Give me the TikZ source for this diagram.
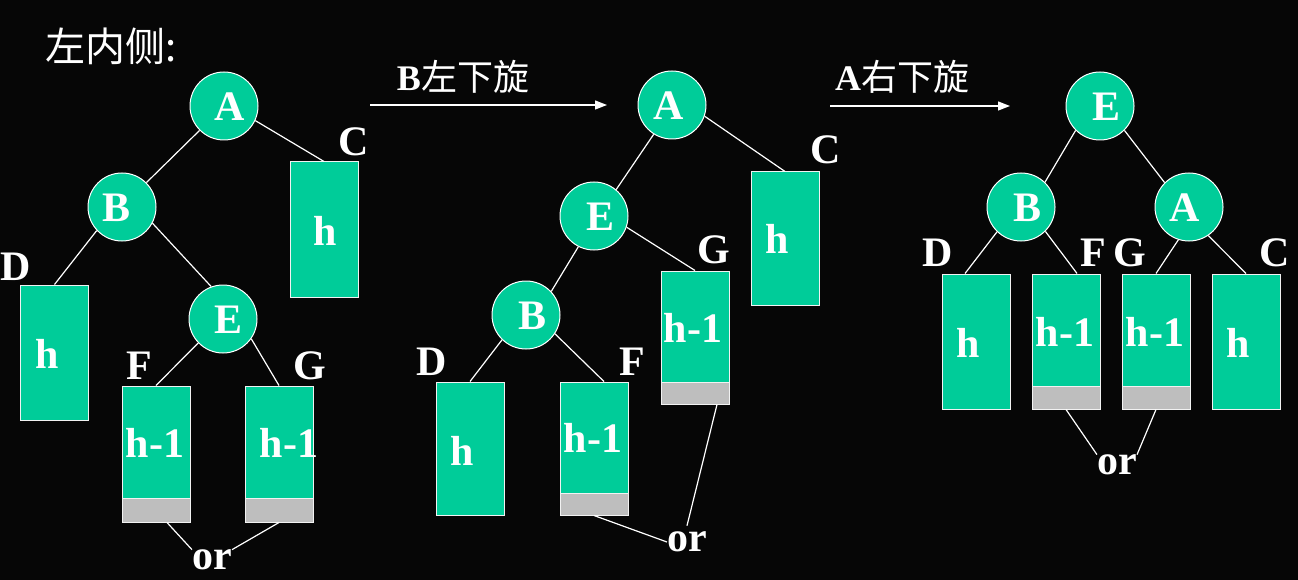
\documentclass[tikz,border=0pt]{standalone}
\usepackage{fontspec}
\setmainfont{Liberation Serif}
\newfontfamily\cjk{Noto Sans CJK SC}
\usetikzlibrary{arrows.meta}
\definecolor{bg}{HTML}{060606}
\definecolor{teal1}{HTML}{00CC99}
\definecolor{gray1}{HTML}{BEBEBE}
\tikzset{
 circ/.style={circle, fill=teal1, draw=white, line width=1pt, minimum size=68pt, inner sep=0pt},
 tbox/.style={rectangle, fill=teal1, draw=white!90!gray, line width=1pt, minimum width=68pt, inner sep=0pt},
 gbox/.style={rectangle, fill=gray1, draw=white!90!gray, line width=1pt, minimum width=68pt, inner sep=0pt},
 lbl/.style={text=white, font=\fontsize{42}{42}\selectfont\bfseries, inner sep=0pt},
 cjklbl/.style={text=white, inner sep=0pt},
 edge/.style={draw=white, line width=1.2pt},
 arr/.style={draw=white, line width=1.3pt, -{Triangle[length=12pt,width=9pt]}},
}
\begin{document}
\begin{tikzpicture}[x=1pt,y=-1pt]
\fill[bg] (0,0) rectangle (1298,580);
\useasboundingbox (0,0) rectangle (1298,580);

% title
\node[cjklbl, anchor=west, font=\cjk\fontsize{40}{40}\selectfont] (title) at (45,46) {左内侧:};

% ---------------- Tree 1 ----------------
\node[circ] (A1) at (224,106) {};
\node[circ] (B1) at (122,207) {};
\node[circ] (E1) at (223,319) {};
\node[lbl] (tA1) at (230,107) {A};
\node[lbl] (tB1) at (117,208) {B};
\node[lbl] (tE1) at (229,320) {E};

\node[tbox, minimum height=135pt] (Cb1) at (324,229.5) {};
\node[tbox, minimum height=135pt] (Db1) at (54.5,352.5) {};
\node[tbox, minimum height=112pt] (Fb1) at (156,442) {};
\node[gbox, minimum height=24pt] (Fg1) at (156,510) {};
\node[tbox, minimum height=112pt] (Gb1) at (279,442) {};
\node[gbox, minimum height=24pt] (Gg1) at (279,510) {};

\node[lbl] (hC1) at (325,231) {h};
\node[lbl] (hD1) at (47,354) {h};
\node[lbl] (hF1) at (155,443) {h-1};
\node[lbl] (hG1) at (289,443) {h-1};

\node[lbl] (lC1) at (354,142) {C};
\node[lbl] (lD1) at (16,267) {D};
\node[lbl] (lF1) at (139,366) {F};
\node[lbl] (lG1) at (310,366) {G};
\node[lbl] (or1) at (212,560) {or};

\draw[edge] (A1.225) -- (B1.45);
\draw[edge] (A1.-25) -- (Cb1.north);
\draw[edge] (B1.-137) -- (Db1.north);
\draw[edge] (B1.-28) -- (E1.110);
\draw[edge] (E1.-136) -- (Fb1.north);
\draw[edge] (E1.-35) -- (Gb1.north);
\draw[edge] ([xshift=11pt]Fg1.south) -- (or1.north west);
\draw[edge] (Gg1.south) -- (or1.north east);

% arrow 1
\coordinate (a1s) at (370,105);
\coordinate (a1e) at (607,105);
\draw[arr] (a1s) -- (a1e);
\node[cjklbl] (lab1) at (463,77) {\fontsize{36}{36}\selectfont{\bfseries B}{\cjk 左下旋}};

% ---------------- Tree 2 ----------------
\node[circ] (A2) at (672,105) {};
\node[circ] (E2) at (594,216) {};
\node[circ] (B2) at (526,315) {};
\node[lbl] (tA2) at (669,106) {A};
\node[lbl] (tE2) at (600,217) {E};
\node[lbl] (tB2) at (532,316) {B};

\node[tbox, minimum height=133pt] (Cb2) at (785,238.5) {};
\node[tbox, minimum height=111pt] (Gb2) at (695,326.5) {};
\node[gbox, minimum height=22pt] (Gg2) at (695,393) {};
\node[tbox, minimum height=133pt] (Db2) at (470,448.5) {};
\node[tbox, minimum height=111pt] (Fb2) at (594,437.5) {};
\node[gbox, minimum height=22pt] (Fg2) at (594,504) {};

\node[lbl] (hC2) at (777,239) {h};
\node[lbl] (hG2) at (693,328) {h-1};
\node[lbl] (hD2) at (462,451) {h};
\node[lbl] (hF2) at (593,438) {h-1};

\node[lbl] (lC2) at (826,150) {C};
\node[lbl] (lG2) at (714,250) {G};
\node[lbl] (lD2) at (432,362) {D};
\node[lbl] (lF2) at (632,362) {F};
\node[lbl] (or2) at (687,542) {or};

\draw[edge] (A2.-122) -- (E2.50);
\draw[edge] (A2.-19) -- (Cb2.north);
\draw[edge] (E2.-19) -- (Gb2.north);
\draw[edge] (E2.-117) -- (B2.43);
\draw[edge] (B2.-134) -- (Db2.north);
\draw[edge] (B2.-33) -- ([xshift=10pt]Fb2.north);
\draw[edge] (Fg2.south) -- (or2.west);
\draw[edge] ([xshift=22pt]Gg2.south) -- ([yshift=6pt]or2.north);

% arrow 2
\coordinate (a2s) at (830,106);
\coordinate (a2e) at (1010,106);
\draw[arr] (a2s) -- (a2e);
\node[cjklbl] (lab2) at (902,77) {\fontsize{36}{36}\selectfont{\bfseries A}{\cjk 右下旋}};

% ---------------- Tree 3 ----------------
\node[circ] (E3) at (1100,106) {};
\node[circ] (B3) at (1021,207) {};
\node[circ] (A3) at (1189,207) {};
\node[lbl] (tE3) at (1106,107) {E};
\node[lbl] (tB3) at (1027,208) {B};
\node[lbl] (tA3) at (1185,208) {A};

\node[tbox, minimum height=135pt] (Db3) at (976,341.5) {};
\node[tbox, minimum height=112pt] (Fb3) at (1066,330) {};
\node[gbox, minimum height=23pt] (Fg3) at (1066,397.5) {};
\node[tbox, minimum height=112pt] (Gb3) at (1156,330) {};
\node[gbox, minimum height=23pt] (Gg3) at (1156,397.5) {};
\node[tbox, minimum height=135pt] (Cb3) at (1246,341.5) {};

\node[lbl] (hD3) at (968,343) {h};
\node[lbl] (hF3) at (1065,332) {h-1};
\node[lbl] (hG3) at (1155,332) {h-1};
\node[lbl] (hC3) at (1238,343) {h};

\node[lbl] (lD3) at (938,253) {D};
\node[lbl] (lF3) at (1093,253) {F};
\node[lbl] (lG3) at (1130,253) {G};
\node[lbl] (lC3) at (1275,253) {C};
\node[lbl] (or3) at (1117,465) {or};

\draw[edge] (E3.-135) -- (B3.46);
\draw[edge] (E3.-45) -- (A3.135);
\draw[edge] (B3.-134) -- ([xshift=-11pt]Db3.north);
\draw[edge] (B3.-45) -- ([xshift=11pt]Fb3.north);
\draw[edge] (A3.-108) -- (Gb3.north);
\draw[edge] (A3.-56) -- (Cb3.north);
\draw[edge] (Fg3.south) -- (or3.north west);
\draw[edge] (Gg3.south) -- (or3.north east);
\end{tikzpicture}
\end{document}
